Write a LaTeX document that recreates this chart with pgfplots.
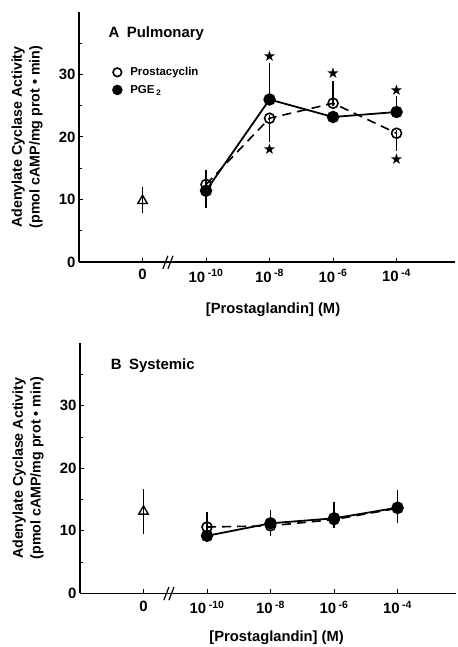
\documentclass[border=0pt]{standalone}
\usepackage{fontspec}
\setmainfont{Liberation Sans}
\newfontfamily\starfont{DejaVu Sans}
\usepackage{pgfplots}
\pgfplotsset{compat=1.18}

\pgfplotstableread{
x y ep em
0 9.8 1.7 1.5
}\triA
\pgfplotstableread{
x y ep em
1 12.4 1.9 0
2 23.0 0 3.3
3 25.4 3.1 0
4 20.6 0 2.3
}\prostaA
\pgfplotstableread{
x y ep em
1 11.4 0 2.3
2 26.0 5.3 0
3 23.2 0 0
4 24.0 2.0 0
}\pgeA
\pgfplotstableread{
x y
2 33.0
2 18.0
3 30.2
4 27.5
4 16.5
}\starsA
\pgfplotstableread{
x y ep em
0 13.1 3.1 3.1
}\triB
\pgfplotstableread{
x y ep em
1 10.6 1.9 0
2 10.8 0 1.1
3 11.8 0 0.8
4 13.6 0 1.9
}\prostaB
\pgfplotstableread{
x y ep em
1 9.2 0 0
2 11.2 1.6 0
3 12.0 2.2 0
4 13.7 2.4 0
}\pgeB

\pgfplotsset{
  panel/.style={
    scale only axis, width=376bp, height=250bp,
    anchor=south west,
    xmin=-1, xmax=4.92, ymin=0, ymax=40,
    axis x line*=bottom, axis y line*=left,
    axis line style={line width=1.2pt},
    xtick={0,1,2,3,4},
    xticklabels={0, 10\,\textsuperscript{-10}, 10\,\textsuperscript{-8}, 10\,\textsuperscript{-6}, 10\,\textsuperscript{-4}},
    ytick={0,10,20,30}, yticklabels={0,10,20,30},
    minor ytick={5,15,25,35},
    tick align=inside,
    major tick length=4bp, minor tick length=3bp,
    tick style={line width=1pt, black},
    ticklabel style={font=\bfseries\fontsize{15}{15}\selectfont},
    xticklabel style={yshift=-4bp},
    ylabel={Adenylate Cyclase Activity\\(pmol cAMP/mg prot • min)},
    ylabel style={align=center, font=\bfseries\fontsize{14.3}{18}\selectfont, at={(axis description cs:-0.138,0.5)}, anchor=center},
    xlabel={[Prostaglandin] (M)},
    clip=false,
  },
  eb/.style={
    error bars/y dir=both, error bars/y explicit,
    error bars/error bar style={solid, line width=1.5pt, black},
    error bars/error mark=-,
    error bars/error mark options={solid, mark size=3bp, line width=1.3pt, black},
  },
  tri/.style={black, line width=1.4pt, mark=triangle, mark size=5.5bp, mark options={fill=white, solid}, only marks, eb},
  prosta/.style={black, line width=1.6pt, dash pattern=on 9bp off 6bp, mark=o, mark size=5bp, mark options={fill=white, solid, line width=1.6pt}, eb},
  pge/.style={black, line width=1.8pt, mark=*, mark size=5.3bp, mark options={fill=black, solid}, eb},
}

\begin{document}
\begin{tikzpicture}
\path[use as bounding box] (0,0) rectangle (458bp,647bp);

% Panel A
\begin{axis}[panel, at={(79bp,385bp)},
  xlabel style={at={(axis description cs:0.516,-0.192)}, anchor=center, font=\bfseries\fontsize{14.8}{15}\selectfont},
  legend style={draw=none, fill=none, at={(axis description cs:0.09,0.787)}, anchor=north west,
    font=\bfseries\fontsize{11.5}{12}\selectfont, inner sep=0pt, row sep=4bp, cells={anchor=west}},
  legend image code/.code={\draw[#1, only marks, mark size=4.3bp] plot coordinates {(0bp,0bp)}; \path[draw=none, fill=none] (0bp,0bp) -- (11bp,0bp);},
]
\addplot[tri, forget plot] table[x=x, y=y, y error plus=ep, y error minus=em] {\triA};
\addplot[prosta] table[x=x, y=y, y error plus=ep, y error minus=em] {\prostaA};
\addplot[pge] table[x=x, y=y, y error plus=ep, y error minus=em] {\pgeA};
\addplot[forget plot, only marks, mark=text, text mark={\starfont\fontsize{15}{15}\selectfont ★}, text mark as node=true] table[x=x, y=y] {\starsA};
\legend{Prostacyclin, PGE\,\textsubscript{2}}
\node[anchor=west, font=\bfseries\fontsize{15}{15}\selectfont] at (axis cs:-0.59,36.5) {A\enspace Pulmonary};
\draw[line width=1.2pt] (axis cs:0.32,-1.1) -- (axis cs:0.40,1.0);
\draw[line width=1.2pt] (axis cs:0.40,-1.1) -- (axis cs:0.48,1.0);
\end{axis}

% Panel B
\begin{axis}[panel, at={(80bp,53.7bp)},
  xlabel style={at={(axis description cs:0.523,-0.179)}, anchor=center, font=\bfseries\fontsize{14.8}{15}\selectfont},
]
\addplot[tri, forget plot] table[x=x, y=y, y error plus=ep, y error minus=em] {\triB};
\addplot[prosta] table[x=x, y=y, y error plus=ep, y error minus=em] {\prostaB};
\addplot[pge] table[x=x, y=y, y error plus=ep, y error minus=em] {\pgeB};
\node[anchor=west, font=\bfseries\fontsize{15}{15}\selectfont] at (axis cs:-0.57,36.5) {B\enspace Systemic};
\draw[line width=1.2pt] (axis cs:0.32,-1.1) -- (axis cs:0.40,1.0);
\draw[line width=1.2pt] (axis cs:0.40,-1.1) -- (axis cs:0.48,1.0);
\end{axis}
\end{tikzpicture}
\end{document}
